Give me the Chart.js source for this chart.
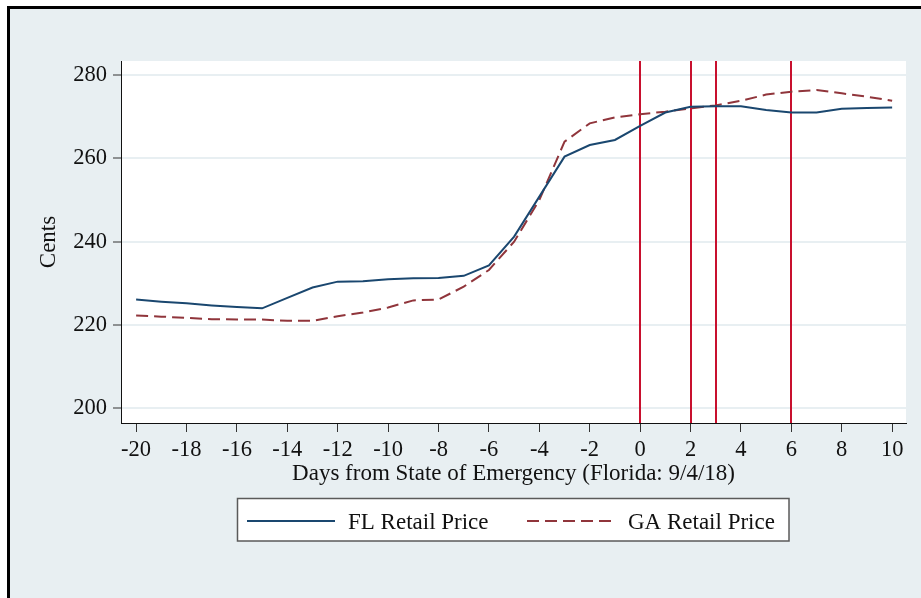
<!DOCTYPE html>
<html>
<head>
<meta charset="utf-8">
<script src="https://cdn.jsdelivr.net/npm/chart.js@4.4.1/dist/chart.umd.min.js"></script>
<style>
    html, body { margin: 0; padding: 0; background: #fff; }
    canvas { display: block; }
</style>
</head>
<body>
<canvas id="priceChart" width="921" height="598"></canvas>
<script>
const days = [-20, -19, -18, -17, -16, -15, -14, -13, -12, -11, -10, -9, -8, -7, -6, -5,
    -4, -3, -2, -1, 0, 1, 2, 3, 4, 5, 6, 7, 8, 9, 10];

const flRetail = [226.1, 225.6, 225.2, 224.7, 224.3, 224.0, 226.5, 229.0, 230.4, 230.5, 231.0,
    231.2, 231.3, 231.8, 234.3, 241.2, 250.8, 260.4, 263.2, 264.4, 267.8, 271.0, 272.4,
    272.5, 272.5, 271.6, 271.0, 271.0, 271.9, 272.1, 272.2];

const gaRetail = [222.3, 222.0, 221.7, 221.4, 221.3, 221.3, 221.0, 221.0, 222.1, 223.0, 224.2,
    225.9, 226.1, 229.2, 233.2, 240.0, 250.0, 264.0, 268.4, 269.8, 270.6, 271.2, 272.0,
    272.7, 273.8, 275.3, 276.0, 276.4, 275.6, 274.8, 273.8];

// days with vertical markers
const eventDays = [0, 2, 3, 6];

const xTickValues = [-20, -18, -16, -14, -12, -10, -8, -6, -4, -2, 0, 2, 4, 6, 8, 10];
const yTickValues = [200, 220, 240, 260, 280];

const seriesLabels = ["FL Retail Price", "GA Retail Price"];

Chart.defaults.font.family = "'Liberation Serif', 'Times New Roman', serif";
Chart.defaults.color = "#111";

const frameBg = "#e8eff2";

const backdrop = {
    id: "backdrop",
    beforeDraw(chart) {
        const {ctx, chartArea, width, height} = chart;
        ctx.save();
        ctx.fillStyle = "#fff";
        ctx.fillRect(0, 0, width, height);
        ctx.fillStyle = frameBg;
        ctx.fillRect(9, 8, width, height);
        ctx.fillStyle = "#000";
        ctx.fillRect(7, 6, width, 3);
        ctx.fillRect(7, 6, 3, height);
        ctx.fillStyle = "#fff";
        ctx.fillRect(chartArea.left, chartArea.top,
            chartArea.right - chartArea.left, chartArea.bottom - chartArea.top);
        ctx.restore();
    }
};

const eventLines = {
    id: "eventLines",
    beforeDatasetsDraw(chart) {
        const {ctx, chartArea, scales} = chart;
        ctx.save();
        ctx.strokeStyle = "#c8102e";
        ctx.lineWidth = 2;
        eventDays.forEach(d => {
            const x = Math.round(scales.x.getPixelForValue(d));
            ctx.beginPath();
            ctx.moveTo(x, chartArea.top);
            ctx.lineTo(x, chartArea.bottom);
            ctx.stroke();
        });
        ctx.restore();
    }
};

// boxed legend under the axis title
const boxLegend = {
    id: "boxLegend",
    afterDraw(chart) {
        const ctx = chart.ctx;
        const sets = chart.data.datasets;
        const starts = [247, 527];
        const y = 521;
        ctx.save();
        ctx.fillStyle = "#fff";
        ctx.fillRect(238, 499, 551, 42);
        ctx.strokeStyle = "#5a5a5a";
        ctx.lineWidth = 1.5;
        ctx.strokeRect(237.5, 498.5, 551.5, 42.5);
        sets.forEach((ds, i) => {
            ctx.strokeStyle = ds.borderColor;
            ctx.lineWidth = 2;
            ctx.setLineDash(ds.borderDash || []);
            ctx.beginPath();
            ctx.moveTo(starts[i], y);
            ctx.lineTo(starts[i] + 88, y);
            ctx.stroke();
            ctx.setLineDash([]);
            ctx.fillStyle = "#111";
            ctx.font = "23px 'Liberation Serif', serif";
            ctx.textBaseline = "alphabetic";
            ctx.fillText(ds.label, starts[i] + 101, 529);
        });
        ctx.restore();
    }
};

new Chart(document.getElementById("priceChart"), {
    type: "line",
    data: {
        datasets: [
            {
                label: seriesLabels[0],
                data: days.map((d, i) => ({x: d, y: flRetail[i]})),
                borderColor: "#1a476f",
                borderWidth: 2,
                pointRadius: 0,
                tension: 0
            },
            {
                label: seriesLabels[1],
                data: days.map((d, i) => ({x: d, y: gaRetail[i]})),
                borderColor: "#90353b",
                borderWidth: 2,
                borderDash: [12, 6],
                pointRadius: 0,
                tension: 0
            }
        ]
    },
    options: {
        responsive: false,
        animation: false,
        events: [],
        layout: {padding: {left: 0, top: 61, right: 15, bottom: 110}},
        plugins: {legend: {display: false}, tooltip: {enabled: false}},
        scales: {
            x: {
                type: "linear",
                min: -20.6,
                max: 10.55,
                afterBuildTicks: scale => { scale.ticks = xTickValues.map(v => ({value: v})); },
                afterFit: scale => { scale.height = 65; },
                grid: {drawOnChartArea: false, tickLength: 9, tickColor: "#333", tickWidth: 1},
                border: {color: "#111", width: 1},
                ticks: {font: {size: 22.5}, padding: 5, maxRotation: 0, color: "#111"},
                title: {
                    display: true,
                    text: "Days from State of Emergency (Florida: 9/4/18)",
                    font: {size: 23},
                    padding: {top: 0, bottom: 0},
                    color: "#111"
                }
            },
            y: {
                min: 196.47,
                max: 283.36,
                afterBuildTicks: scale => { scale.ticks = yTickValues.map(v => ({value: v})); },
                afterFit: scale => { scale.width = 121; },
                grid: {color: "#e8eff2", lineWidth: 2, tickLength: 8, tickColor: "#333", tickWidth: 1},
                border: {color: "#111", width: 1},
                ticks: {font: {size: 22.5}, padding: 6, color: "#111"},
                title: {
                    display: true,
                    text: "Cents",
                    font: {size: 23},
                    padding: {top: 35, bottom: 0},
                    color: "#111"
                }
            }
        }
    },
    plugins: [backdrop, eventLines, boxLegend]
});
</script>
</body>
</html>
